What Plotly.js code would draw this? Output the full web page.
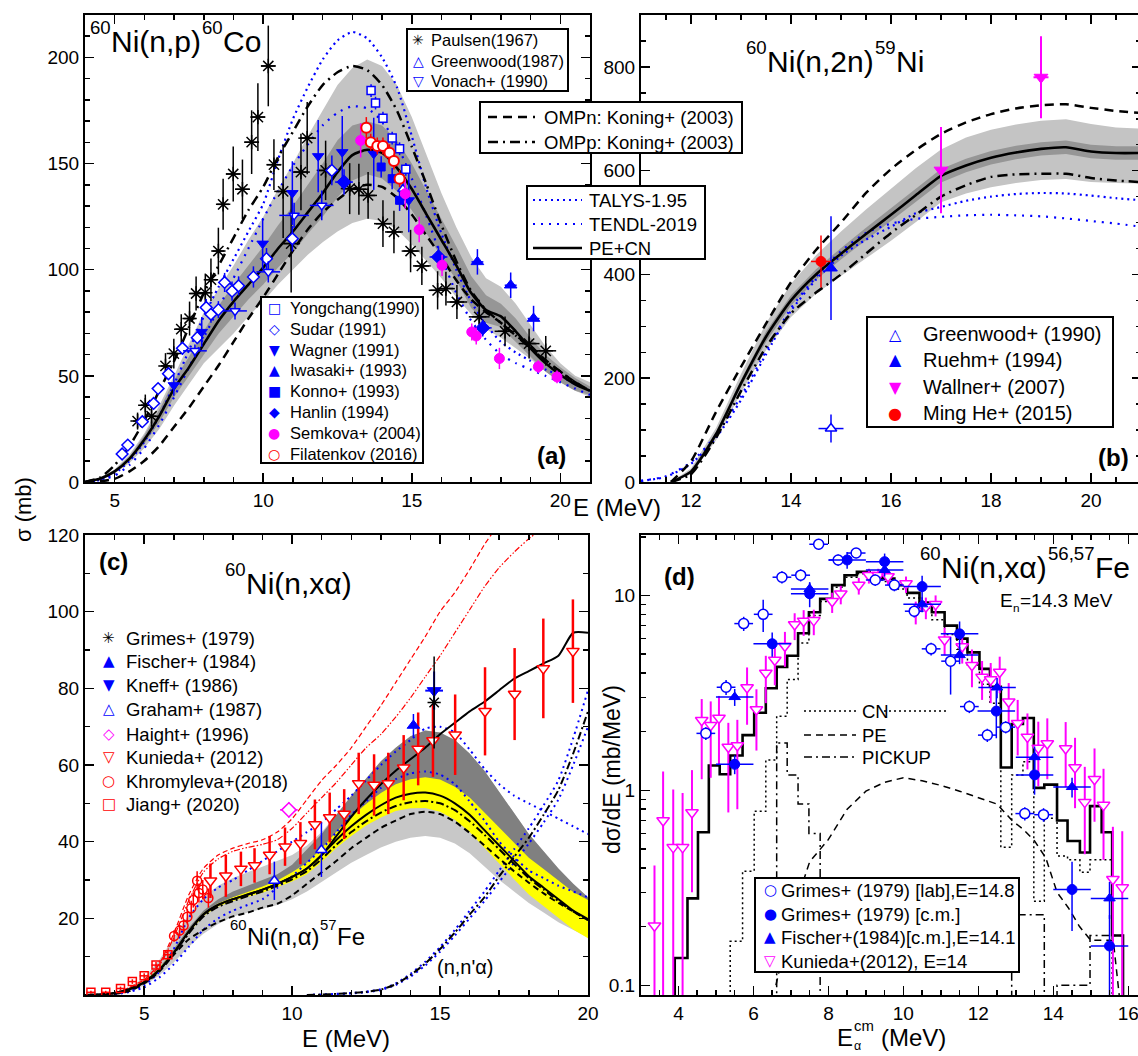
<!DOCTYPE html>
<html><head><meta charset="utf-8">
<script src="https://cdn.plot.ly/plotly-3.0.1.min.js"></script>
<style>html,body{margin:0;padding:0;overflow:hidden;background:#fff}#plot{width:1160px;height:1056px}</style>
</head><body><div id="plot"></div>
<script>
// ===================== DATA: panel (a) 60Ni(n,p)60Co =====================
const aE = [4,4.5,5,5.5,6,6.5,7,7.5,8,8.5,9,9.5,10,10.5,11,11.5,12,12.5,13,13.5,14,14.5,15,15.5,16,16.5,17,17.5,18,18.5,19,19.5,20,20.5,21];
const aPECN = [0,1.5,5,11,20,31,44,54,65,76,85,93,101,110,118,127,136,146,154,156.5,155,148,138,126,114,102,89,81,78,71,63,56,50.5,46,43];
const aLightUp = [0,2,6,13,23,36,50,65,80,91,102,114,125,138,150,163,175,187,195,199,196,187,172,154,136,120,106,96,92,84,74,64,56,50,47];
const aLightLo = [0,1,4,9,16,25,36,46,56,63,70,78,85,93,100,107,113,118,122,124,123,119,112,104,96,87,79,72,68,63,58,52,47,43,40];
const aDarkUp = [0,1.7,5.6,12,22,34,48,59,71,83,93,102,111,121,130,140,150,161,168,170,168,161,150,137,124,111,97,88,84,77,68,60,54,49,45];
const aDarkLo = [0,1.3,4.4,10,18,28,40,50,60,70,78,86,93,101,108,117,125,134,142,145,143,137,128,117,106,95,82,75,73,66,59,52,47,43,41];
const aOMPn = [0,0.3,1.5,5,10,17,26,35,45,55,66,77,87,98,109,119,127,133,138,140,139,134,126,116,106,95,86,80,75,69,64,57.5,52,47,43];
const aOMPp = [0,2,8,17,29,43,57,73,89,102,115,128,139,153,165,177,187,193,196,194,187,175,158,140,121,104,90,81,75,69,63,57,52,47,43];
const aTALYS = [0,1,4,10,19,31,46,62,78,92,105,118,131,152,171,186,199,208,212,209,200,186,163,138,117,100,85,74,66,61,57,53,50,46,43];
const aTENDL = [0,0.8,3,8,16,27,40,54,68,82,96,110,124,137,149,159,168,174,177,176,170,159,143,125,106,89,76,67,60,56,53,50,47,44,41];

const paulsenE = [5.77,6.03,6.24,6.71,6.99,7.24,7.52,7.74,8.05,8.24,8.49,8.65,8.99,9.3,9.61,9.82,10.17,10.36,10.67,10.94,11.27,11.48,12.1,12.91,13.22,13.53,14.03,14.4,14.96,15.34,15.87,16.15,16.52,17.27,18.14,18.95,19.51];
const paulsenS = [28.7,36.2,31,54.7,60.5,72,77,88.8,89.2,95.3,108.8,130.8,145.1,137.9,160.1,171.9,196,149.5,136.9,112.3,146,162,146.8,138.2,137.9,135,121.7,117.8,108.8,101.8,90.3,91.1,84.8,77.8,71,65.2,61.8];
const paulsenDS = [4,5,5,6,7,7,8,8,9,10,11,12,13,14,15,16,19,12,22,23,18,17,14,12,12,11,11,10,10,9,9,8,8,8,7,7,7];
const paulsenDE = [0.15,0.15,0.15,0.15,0.15,0.2,0.2,0.2,0.2,0.2,0.2,0.2,0.25,0.25,0.25,0.25,0.25,0.25,0.3,0.3,0.3,0.3,0.3,0.3,0.3,0.3,0.3,0.3,0.3,0.3,0.3,0.3,0.35,0.35,0.35,0.35,0.35];
const greenwoodAE = [14.7], greenwoodAS = [138], greenwoodADS = [4];
const vonachE = [7.7,9.05,10.17,11.04,11.97], vonachS = [61.8,80.6,99,125.6,130.3], vonachDS = [3,4,5,6,7], vonachDE = [0.4,0.4,0.4,0.5,0.4];
const yongE = [13.63,13.78,14.03,14.34,14.59,14.8], yongS = [184.4,178.5,171.4,162,157,147.3], yongDS = [3,3,3,3,3,3];
const sudarE = [5.25,5.44,5.93,6.31,6.46,6.81,7.28,7.78,8.08,8.24,8.49,8.7,8.95,9.17,9.67,10.11,10.98,12.31];
const sudarS = [13.2,17.4,28.4,37,44,51,63,68,82.2,79,81.2,94,89.9,92.4,96.6,105.2,114.6,146.8];
const sudarDS = [1,1,1.5,2,2,2.5,3,3,4,4,4,4.5,4.5,4.5,5,5,6,7];
const wagnerE = [6.99,7.93,9.98,10.98,11.85,12.66,13.72,14.9], wagnerS = [45.6,70.7,112.3,136.1,153.5,155.4,154.6,132.7], wagnerDS = [5,7,12,15,17,17,17,15];
const iwasakiE = [17.21,18.33,19.1], iwasakiS = [103.7,92.7,77], iwasakiDS = [6,6,6], iwasakiDE = [0.2,0.2,0.2];
const konnoE = [13.97,14.34,14.59], konnoS = [148.4,142.9,132.7], konnoDS = [5,5,5];
const hanlinE = [12.72,15.9,17.39], hanlinS = [141.3,106,72.6], hanlinDS = [6,5,4], hanlinDE = [0.3,0.3,0.3];
const semkovaE = [13.28,14.78,15.25,16.02,17.02,17.17,17.95,19.26,19.89], semkovaS = [160.9,135.8,118.9,102.1,70.7,68.8,58.2,54.3,49.5], semkovaDS = [8,7,6,5,4,4,5,3,3];
const filatE = [13.47,13.62,13.84,14.03,14.25,14.4,14.59], filatS = [166.9,160.1,158.3,158.3,155.1,151.2,142.9], filatDS = [5,4,4,4,4,4,4];

// ===================== DATA: panel (b) 60Ni(n,2n)59Ni =====================
const bE = [11.6,12,12.5,13,13.5,14,14.5,15,15.5,16,16.5,17,17.5,18,18.5,19,19.5,20,20.5,21];
const bPECN = [0,20,92,190,280,350,400,440,478,515,553,590,610,625,635,642,645,637,634,634];
const bLightUp = [0,26,104,208,306,382,437,483,525,565,605,641,664,679,689,696,699,690,683,681];
const bLightLo = [0,15,80,172,254,318,363,397,431,465,501,539,556,568,576,582,584,578,576,575];
const bDarkUp = [0,22,97,197,290,360,410,451,490,528,566,603,623,638,648,655,658,650,647,647];
const bDarkLo = [0,18,87,183,270,340,390,429,466,502,540,577,597,612,622,629,632,624,621,621];
const bOMPn = [0,40,135,222,305,385,447,500,557,603,640,671,693,709,720,726,728,721,715,711];
const bOMPp = [0,15,85,175,260,325,365,400,440,480,515,550,572,588,593,594,594,586,581,578];
const bEt = [11,11.5,12,12.5,13,13.5,14,14.5,15,15.5,16,16.5,17,17.5,18,18.5,19,19.5,20,20.5,21];
const bTALYS = [2,10,35,85,158,246,330,390,436,467,492,518,530,542,550,555,557,556,552,547,543];
const bTENDL = [2,11,38,90,165,252,335,395,445,480,498,507,511,514,515,514,512,508,503,498,492];
const gw90E = [14.8], gw90S = [103], gw90DS = [27], gw90DE = [0.25];
const ruehmE = [14.8], ruehmS = [412], ruehmDS = [100];
const wallnerE = [17.0,19.0], wallnerS = [601,780], wallnerDS = [83,79], wallnerDE = [0.05,0.15];
const mingheE = [14.6], mingheS = [425], mingheDS = [50], mingheDE = [0.2];

// ===================== DATA: panel (c) 60Ni(n,xa) =====================
const cE = [3,3.5,4,4.5,5,5.5,6,6.5,7,7.5,8,8.5,9,9.5,10,10.5,11,11.5,12,12.5,13,13.5,14,14.5,15,15.5,16,16.5,17,17.5,18,18.5,19,19.5,20];
const cXA = [0,0.1,0.5,1.5,3.3,6.5,11,16.5,21,23.5,25,26.2,27.5,29,30.8,33,36.5,41.5,46.5,51,55,58.5,61.5,64.5,68,71,74,76.5,79.5,82.5,84.5,86.5,88.5,94.5,94.5];
const cNA = [0,0.1,0.5,1.5,3.3,6.5,11,16.5,21,23.5,25,26.2,27.5,29,30.8,33,36.5,40.5,44,47,49.5,51.5,52.5,52.8,52,50,47,43,39,35,31,28,25,22,19.8];
const cYelUp = [0,0.1,0.6,1.7,3.6,6.9,11.4,16.9,21.4,23.9,25.5,26.8,28.3,29.9,32,34.5,38.3,42.6,46.5,49.8,52.7,55,56.3,56.8,56.2,54.3,51.5,47.6,43.7,39.8,35.8,32.9,29.9,26.9,24.8];
const cYelLo = [0,0.1,0.4,1.3,3.0,6.1,10.6,16.1,20.6,23.1,24.5,25.6,26.7,28.1,29.6,31.5,34.7,38.4,41.5,44.2,46.3,48,48.7,48.8,47.8,45.7,42.5,38.4,34.3,30.2,26.2,23.1,20.1,17.1,14.8];
const cLightUp = [0,0.1,0.7,2,4.5,9,15,21,25.5,28.5,30.5,32,33.5,35,36.5,39,42.5,47,52,56.5,61,64.5,67.5,69,68.5,66.5,63,58.5,53,47.5,42,37.5,33,29,25.5];
const cLightLo = [0,0,0.3,1,2.5,5,8.5,12.5,16,18.5,20.5,21.5,22.5,23.5,25,27,29.5,32,34.5,36.5,38.5,40,41,41.5,41,39.5,37,33.5,30,27,24,21.5,19,17,15];
const cDarkUp = [0,0.1,0.5,1.6,3.5,7,12,17.5,22,25,27,28.5,30,31.5,34,38,42,47,52,56.5,61,64.5,67.5,69,68.5,66.5,63,58.5,53,47.5,42,37.5,33,29,25.5];
const cOMPn = [0,0,0.3,1,3,6,10.5,14.5,17,19,20.5,21.5,22.8,23.8,26,29,32,35,38.3,41,43.6,45.5,47.2,47.8,47.2,45.2,42.3,39,35.6,32.3,29.3,26.5,24,21.8,19.5];
const cOMPp = [0,0.1,0.5,1.4,3.2,6.3,10.8,16,20.5,23,24.5,25.8,27,28.5,30.2,32.3,35.5,39.2,42.5,45.3,47.6,49.3,50.3,50.6,50,48.2,45.3,41.8,38,34.2,30.5,27.5,24.5,21.8,19.6];
const cTALYS = [0,0,0.3,1,2.5,6,12,20,25,28,30,32.5,35,37.5,40,42.5,45,48.5,52,56,60,63.5,66.5,69.5,70,68.5,64,59,55,52,50,48,46,44,42];
const cTENDL = [0,0,0.2,0.8,2,4.5,8,12.5,17,20,22,23.5,25,28,31,34.5,38,42.5,47,50.5,54,56.3,57.8,58.3,57.5,55,50.5,45.5,40,36,32.5,30.5,28.5,27,25.5];
const cNE = [10.5,11,11.5,12,12.5,13,13.5,14,14.5,15,15.5,16,16.5,17,17.5,18,18.5,19,19.5,20];
const cNNA_K = [0,0.1,0.3,0.5,0.8,1.4,2.8,5.2,8.2,12,16.3,21,25.5,31,36,41,47,53.5,63,74];
const cNNA_T = [0,0.1,0.3,0.5,0.9,1.5,3,5.5,8.7,12.5,17,22,27,32.5,38,43.5,49.5,56,67,79.5];
const cNNA_L = [0,0.1,0.2,0.4,0.7,1.3,2.6,4.8,7.7,11.3,15.5,20,24.5,29.5,34.5,39.5,45,51,60,70];
const rE = [3.5,4,4.5,5,5.5,6,6.5,7,7.5,8,8.5,9,9.5,10,10.5,11,11.5,12,12.5,13,13.5,14,14.5,15,15.5,16,16.5,17,17.5,18,18.5];
const cRedDash = [0,0.5,2,4,8,16,26,33,36.5,38.3,39.5,40.5,42.5,46,51,56,60,64.5,70,75.5,81.5,87.5,93.5,100,105,111,117.5,123,128,133,138];
const cRedDDot = [0,0.4,1.8,3.7,7.5,15,24.5,32,35.5,37.5,38.5,39.3,40.5,43.5,47.5,51.5,55.5,60,64.5,68,72.5,77.5,83,88.5,94.5,100.5,106.5,111.5,115.5,119,122];

const kunE = [7.24,7.76,8.27,8.73,9.24,9.76,10.28,10.77,11.27,11.76,12.25,12.77,13.25,13.77,14.26,14.76,15.51,16.52,17.52,18.49,19.49];
const kunS = [29.8,31.1,32.9,33.8,36.5,38.7,39.6,44.5,46.3,47.2,55.2,54.8,55.2,59.3,64.2,66.4,67.9,74,78.5,85.2,89.7];
const kunDS = [4.5,5.5,4.5,4.5,5,5,5.5,6.5,6.5,6.5,8,8,8,8.5,9.5,9.5,10.5,11.5,12,13,13.5];
const khromE = [6.01,6.2,6.33,6.46,6.59,6.66,6.79,6.85,6.98,7.17], khromS = [15.4,16.8,18.1,20.4,22.6,24.8,29.8,26.6,27.5,25.3], khromDS = [1.5,1.5,1.5,2,2,2,2.5,2.5,2.5,2.5];
const jiangE = [3.2,3.7,4.2,4.6,5.0,5.4,5.8], jiangS = [0.7,0.7,1.7,3.5,5.0,7.8,10.5], jiangDS = [0.4,0.4,0.5,0.6,0.7,0.8,1], jiangDE = [0.15,0.15,0.15,0.15,0.15,0.15,0.15];
const grimesCE = [14.8], grimesCS = [76.3], grimesCDS = [12];
const fischerCE = [14.1], fischerCS = [70.3], fischerCDS = [3];
const kneffE = [14.8], kneffS = [79.4], kneffDS = [5], kneffDE = [0.3];
const grahamE = [9.4,10.99], grahamS = [29.8,37.8], grahamDS = [5,7];
const haightE = [9.89], haightS = [48.3], haightDS = [2], haightDE = [0.3];

// ===================== DATA: panel (d) alpha spectrum =====================
const dEdges = [3.6,3.9,4.24,4.52,4.81,5.1,5.38,5.71,6.02,6.33,6.62,6.9,7.19,7.48,7.78,8.1,8.43,8.76,9.1,9.43,9.76,10.1,10.43,10.76,11.1,11.43,11.71,12.03,12.31,12.6,12.89,13.19,13.48,13.76,14.1,14.38,14.71,14.98,15.29,15.57,15.86,16.2];
const dTotal = [0.01,0.138,0.279,0.61,1.34,1.21,1.51,1.92,2.5,3.34,4.3,4.9,6.4,8.2,9.6,11.3,12.7,13.2,13.0,12.2,11.3,10.3,9.2,8.2,7.0,6.0,5.1,4.2,3.4,1.31,2.19,2.35,1.03,1.07,0.70,0.55,0.48,0.83,0.61,0.18,0.01];
const dCN = [0.01,0.01,0.01,0.01,0.01,0.01,0.168,0.385,0.78,1.43,2.4,3.7,5.7,7.9,9.3,11,12.4,12.9,12.7,11.8,10.8,9.7,8.6,7.5,6.3,5.3,4.4,3.5,2.8,0.51,1.2,1.4,0.27,0.72,0.46,0.44,0.38,0.44,0.44,0.01,0.01];
const dPickup = [0.01,0.01,0.01,0.01,0.01,0.01,0.01,0.01,0.01,0.01,1.75,1.2,0.85,0.6,0.01,0.01,0.01,0.01,0.01,0.01,0.01,0.01,0.01,0.01,0.01,0.01,0.01,0.01,0.01,0.01,0.23,0.23,0.23,0.01,0.1,0.1,0.1,0.18,0.18,0.18,0.01];
const dPE_E = [6.6,7.0,7.5,8.0,8.5,9.0,9.5,10.0,10.5,11.0,11.5,12.0,12.5,12.9,13.2,13.5,13.8,14.1,14.4,14.7,15.0,15.3,15.6,15.9];
const dPE_Y = [0.1,0.22,0.43,0.56,0.8,0.99,1.1,1.16,1.12,1.06,0.99,0.92,0.85,0.7,0.63,0.55,0.45,0.3,0.25,0.2,0.17,0.17,0.17,0.05];

const grLabE = [4.73,5.27,5.74,6.26,6.76,7.26,7.74,8.26,8.74,9.25,9.76,10.29,10.74,11.26,11.76,12.24,12.73,13.24,13.74];
const grLabY = [1.96,3.38,7.17,8.0,12.4,12.7,18.3,15.2,16.5,12.0,11.3,8.3,5.32,4.6,2.69,1.92,2.11,0.76,0.75];
const grLabDY = [0.15,0.3,0.6,1.5,0.9,0.9,1.2,1.0,1.0,0.8,0.8,0.6,0.4,1.5,0.2,0.15,0.15,0.06,0.06];
const grLabDE = [0.25,0.25,0.25,0.25,0.25,0.25,0.25,0.25,0.25,0.25,0.25,0.25,0.25,0.25,0.25,0.25,0.25,0.25,0.25];
const grCmE = [5.5,6.5,7.5,8.5,9.5,10.5,11.5,12.48,13.5,14.5,15.5];
const grCmY = [1.36,5.65,10.2,15.2,14.9,11.1,6.35,2.55,1.2,0.31,0.159];
const grCmDY = [0.15,0.8,1.5,1.5,1.5,1.5,1.0,0.7,0.25,0.12,0.07];
const grCmDE = [0.5,0.5,0.5,0.5,0.5,0.5,0.5,0.5,0.5,0.5,0.5];
const fiDE = [5.5,7.5,9.5,10.5,11.5,12.5,13.5,14.5,15.5];
const fiDY = [3.01,10.8,13.5,9.0,4.94,3.37,1.48,1.04,0.279];
const fiDDY = [0.3,0.8,1,0.8,0.5,0.4,0.2,0.12,0.06];
const fiDDE = [0.5,0.5,0.5,0.5,0.5,0.5,0.5,0.5,0.5];
const kuDE = [3.36,3.59,3.86,4.11,4.36,4.62,4.86,5.08,5.33,5.57,5.83,6.08,6.33,6.57,6.84,7.1,7.34,7.61,8.1,8.33,8.81,9.08,9.33,9.59,10.07,10.33,10.6,10.86,11.1,11.57,11.83,12.1,12.33,12.57,12.81,13.05,13.31,13.6,13.84,14.33,14.58,14.84,15.1,15.34,15.59,15.84];
const kuDY = [0.202,0.70,0.51,0.51,0.77,2.29,2.16,2.35,1.67,1.70,3.37,2.6,4.0,4.66,5.5,7.1,7.4,7.45,9.33,10.2,11.3,12.7,12.7,12.5,11.5,8.3,8.75,9.0,5.93,5.47,4.38,3.81,3.7,4.05,2.85,2.21,1.88,1.65,1.74,1.64,1.31,0.87,1.14,0.84,0.35,0.317];
const kuDYp = [0.21,0.55,0.5,0.46,0.5,0.65,0.7,0.7,0.55,0.6,0.9,0.7,0.9,1.0,1.0,1.0,1.0,1.0,1.0,1.0,1.0,1.0,1.0,1.0,1.0,1.0,1.0,1.0,0.9,0.9,0.9,0.8,0.8,0.8,0.7,0.7,0.6,0.6,0.6,0.6,0.55,0.45,0.5,0.45,0.3,0.3];
const kuDYm = [0.19,0.68,0.5,0.5,0.47,1.15,1.0,1.0,0.9,0.9,1.2,1.0,1.2,1.2,1.2,1.2,1.2,1.2,1.2,1.2,1.2,1.2,1.2,1.2,1.2,1.2,1.2,1.2,1.0,1.0,1.0,0.9,0.9,0.9,0.8,0.7,0.6,0.6,0.6,0.6,0.5,0.4,0.45,0.4,0.3,0.25];

// ===================== drawing =====================
const W = 1160, H = 1056;
const px = x => x / W, py = y => 1 - y / H;
const FONT = 'Liberation Sans, Arial, Helvetica, sans-serif';
const GLYPH = 'DejaVu Sans, sans-serif';
const BLUE = '#0000ff', MAG = '#ff00ff', RED = '#ff0000', BLK = '#000000';
const traces = [];

function band(x, up, lo, xa, ya, color, name) {
  traces.push({type:'scatter', mode:'lines', name:name, x:x.concat(x.slice().reverse()), y:up.concat(lo.slice().reverse()),
    fill:'toself', fillcolor:color, line:{width:0}, xaxis:xa, yaxis:ya, showlegend:false, hoverinfo:'skip'});
}
function curve(x, y, xa, ya, color, width, dash, name, shape) {
  traces.push({type:'scatter', mode:'lines', name:name, x:x, y:y, xaxis:xa, yaxis:ya,
    line:{color:color, width:width, dash:dash || 'solid', shape:shape || 'spline', smoothing:0.6}, showlegend:false});
}
function pts(x, y, xa, ya, name, sym, size, fill, edge, ew, ey, ex, barColor, barW, eyMinus) {
  const t = {type:'scatter', mode:'markers', name:name, x:x, y:y, xaxis:xa, yaxis:ya, showlegend:false, cliponaxis:true,
    marker:{symbol:sym, size:size, color:fill, line:{color:edge, width:ew}}};
  if (ey) {
    t.error_y = {type:'data', array:ey, color:barColor, thickness:barW, width:0, visible:true};
    if (eyMinus) { t.error_y.symmetric = false; t.error_y.arrayminus = eyMinus; }
  }
  if (ex) t.error_x = {type:'data', array:ex, color:barColor, thickness:barW, width:0, visible:true};
  traces.push(t);
}
function hist(edges, vals, xa, ya, color, width, dash, name) {
  traces.push({type:'scatter', mode:'lines', name:name, x:edges, y:vals.concat([vals[vals.length - 1]]), xaxis:xa, yaxis:ya,
    line:{color:color, width:width, dash:dash || 'solid', shape:'hv'}, showlegend:false});
}

// ---- panel (a)
band(aE, aLightUp, aLightLo, 'x', 'y', 'rgb(196,196,196)', 'PE+CN uncertainty (outer)');
band(aE, aDarkUp, aDarkLo, 'x', 'y', 'rgb(150,150,150)', 'PE+CN uncertainty (inner)');
curve(aE, aTALYS, 'x', 'y', BLUE, 2.2, '2px,4px', 'TALYS-1.95');
curve(aE, aTENDL, 'x', 'y', BLUE, 2.2, '2px,6px', 'TENDL-2019');
curve(aE, aOMPn, 'x', 'y', BLK, 2.5, '9px,6px', 'OMPn: Koning+ (2003)');
curve(aE, aOMPp, 'x', 'y', BLK, 2.5, '10px,5px,2px,5px', 'OMPp: Koning+ (2003)');
curve(aE, aPECN, 'x', 'y', BLK, 2.6, 'solid', 'PE+CN');
pts(paulsenE, paulsenS, 'x', 'y', 'Paulsen(1967)', 'asterisk-open', 12, BLK, BLK, 1.5, paulsenDS, paulsenDE, BLK, 1.5);
pts(sudarE, sudarS, 'x', 'y', 'Sudar (1991)', 'diamond', 9, '#fff', BLUE, 1.5, sudarDS, null, BLUE, 1.5);
pts(vonachE, vonachS, 'x', 'y', 'Vonach+ (1990)', 'triangle-down', 9, '#fff', BLUE, 1.5, vonachDS, vonachDE, BLUE, 1.5);
pts(wagnerE, wagnerS, 'x', 'y', 'Wagner (1991)', 'triangle-down', 10, BLUE, BLUE, 1, wagnerDS, null, BLUE, 1.5);
pts(iwasakiE, iwasakiS, 'x', 'y', 'Iwasaki+ (1993)', 'triangle-up', 11, BLUE, BLUE, 1, iwasakiDS, iwasakiDE, BLUE, 1.5);
pts(konnoE, konnoS, 'x', 'y', 'Konno+ (1993)', 'square', 8, BLUE, BLUE, 1, konnoDS, null, BLUE, 1.5);
pts(hanlinE, hanlinS, 'x', 'y', 'Hanlin (1994)', 'diamond', 11, BLUE, BLUE, 1, hanlinDS, hanlinDE, BLUE, 1.5);
pts(greenwoodAE, greenwoodAS, 'x', 'y', 'Greenwood(1987)', 'triangle-up', 9, '#fff', BLUE, 1.5, greenwoodADS, null, BLUE, 1.5);
pts(yongE, yongS, 'x', 'y', 'Yongchang(1990)', 'square', 8, '#fff', BLUE, 1.5, yongDS, null, BLUE, 1.5);
pts(semkovaE, semkovaS, 'x', 'y', 'Semkova+ (2004)', 'circle', 10, MAG, MAG, 1, semkovaDS, null, MAG, 1.5);
pts(filatE, filatS, 'x', 'y', 'Filatenkov (2016)', 'circle', 10, '#fff', RED, 2, filatDS, null, RED, 1.5);

// ---- panel (b)
band(bE, bLightUp, bLightLo, 'x2', 'y2', 'rgb(196,196,196)', 'PE+CN uncertainty (outer)');
band(bE, bDarkUp, bDarkLo, 'x2', 'y2', 'rgb(150,150,150)', 'PE+CN uncertainty (inner)');
curve(bEt, bTALYS, 'x2', 'y2', BLUE, 2.2, '2px,4px', 'TALYS-1.95');
curve(bEt, bTENDL, 'x2', 'y2', BLUE, 2.2, '2px,6px', 'TENDL-2019');
curve(bE, bOMPn, 'x2', 'y2', BLK, 2.5, '9px,6px', 'OMPn: Koning+ (2003)');
curve(bE, bOMPp, 'x2', 'y2', BLK, 2.5, '10px,5px,2px,5px', 'OMPp: Koning+ (2003)');
curve(bE, bPECN, 'x2', 'y2', BLK, 2.6, 'solid', 'PE+CN');
pts(gw90E, gw90S, 'x2', 'y2', 'Greenwood+ (1990)', 'triangle-up', 10, '#fff', BLUE, 1.5, gw90DS, gw90DE, BLUE, 1.5);
pts(ruehmE, ruehmS, 'x2', 'y2', 'Ruehm+ (1994)', 'triangle-up', 11, BLUE, BLUE, 1, ruehmDS, null, BLUE, 1.5);
pts(wallnerE, wallnerS, 'x2', 'y2', 'Wallner+ (2007)', 'triangle-down', 12, MAG, MAG, 1, wallnerDS, wallnerDE, MAG, 2);
pts(mingheE, mingheS, 'x2', 'y2', 'Ming He+ (2015)', 'circle', 10, RED, RED, 1, mingheDS, mingheDE, RED, 1.5);

// ---- panel (c)
band(cE, cLightUp, cLightLo, 'x3', 'y3', 'rgb(200,200,200)', 'band (light)');
band(cE, cDarkUp, cNA, 'x3', 'y3', 'rgb(128,128,128)', 'band (dark)');
band(cE, cYelUp, cYelLo, 'x3', 'y3', '#ffff00', 'band (yellow)');
curve(rE, cRedDash, 'x3', 'y3', RED, 1.2, '5px,3px', 'red dashed');
curve(rE, cRedDDot, 'x3', 'y3', RED, 1.2, '6px,2px,1.5px,2px,1.5px,2px', 'red dash-dot');
curve(cE, cTALYS, 'x3', 'y3', BLUE, 2, '2px,4px', 'TALYS-1.95 (n,a)');
curve(cE, cTENDL, 'x3', 'y3', BLUE, 2, '2px,4px', 'TENDL-2019 (n,a)');
curve(cNE, cNNA_T, 'x3', 'y3', BLUE, 2, '2px,4px', 'TALYS (n,n\'a)');
curve(cNE, cNNA_L, 'x3', 'y3', BLUE, 2, '2px,4px', 'TENDL (n,n\'a)');
curve(cNE, cNNA_K, 'x3', 'y3', BLK, 2, '8px,3px,2px,3px', 'PE+CN (n,n\'a)');
curve(cE, cOMPn, 'x3', 'y3', BLK, 2, '6px,4px', 'OMPn (n,a)');
curve(cE, cOMPp, 'x3', 'y3', BLK, 2, '8px,3px,2px,3px', 'OMPp (n,a)');
curve(cE, cNA, 'x3', 'y3', BLK, 2, 'solid', 'PE+CN (n,a)');
curve(cE, cXA, 'x3', 'y3', BLK, 2, 'solid', 'PE+CN (n,xa)');
pts(jiangE, jiangS, 'x3', 'y3', 'Jiang+ (2020)', 'square-open', 8, RED, RED, 1.5, jiangDS, jiangDE, RED, 1.5);
pts(khromE, khromS, 'x3', 'y3', 'Khromyleva+(2018)', 'circle-open', 9, RED, RED, 1.5, khromDS, null, RED, 1.5);
pts(kunE, kunS, 'x3', 'y3', 'Kunieda+ (2012)', 'triangle-down', 11, '#fff', RED, 1.5, kunDS, null, RED, 2.5);
pts(grahamE, grahamS, 'x3', 'y3', 'Graham+ (1987)', 'triangle-up', 10, '#fff', BLUE, 1.5, grahamDS, null, BLUE, 1.5);
pts(haightE, haightS, 'x3', 'y3', 'Haight+ (1996)', 'diamond', 11, '#fff', MAG, 1.5, haightDS, haightDE, MAG, 1.5);
pts(fischerCE, fischerCS, 'x3', 'y3', 'Fischer+ (1984)', 'triangle-up', 11, BLUE, BLUE, 1, fischerCDS, null, BLUE, 1.5);
pts(kneffE, kneffS, 'x3', 'y3', 'Kneff+ (1986)', 'triangle-down', 12, BLUE, BLUE, 1, kneffDS, kneffDE, BLUE, 2);
pts(grimesCE, grimesCS, 'x3', 'y3', 'Grimes+ (1979)', 'asterisk-open', 11, BLK, BLK, 1.5, grimesCDS, null, BLK, 1.5);

// ---- panel (d)
hist(dEdges, dCN, 'x4', 'y4', BLK, 1.5, '2px,3px', 'CN');
hist(dEdges, dPickup, 'x4', 'y4', BLK, 1.5, '8px,4px,2px,4px', 'PICKUP');
curve(dPE_E, dPE_Y, 'x4', 'y4', BLK, 1.5, '7px,5px', 'PE', 'linear');
hist(dEdges, dTotal, 'x4', 'y4', BLK, 2.6, 'solid', 'total');
pts(kuDE, kuDY, 'x4', 'y4', 'Kunieda+(2012), E=14', 'triangle-down', 11, '#fff', MAG, 1.5, kuDYp, null, MAG, 2, kuDYm);
pts(grLabE, grLabY, 'x4', 'y4', 'Grimes+ (1979) [lab],E=14.8', 'circle', 10, '#fff', BLUE, 1.5, grLabDY, grLabDE, BLUE, 1.5);
pts(grCmE, grCmY, 'x4', 'y4', 'Grimes+ (1979) [c.m.]', 'circle', 10, BLUE, BLUE, 1, grCmDY, grCmDE, BLUE, 1.5);
pts(fiDE, fiDY, 'x4', 'y4', 'Fischer+(1984)[c.m.],E=14.1', 'triangle-up', 10, BLUE, BLUE, 1, fiDDY, fiDDE, BLUE, 1.5);

// ===================== axes =====================
function ax(extra) {
  return Object.assign({showline:true, linecolor:BLK, linewidth:2, mirror:'allticks', ticks:'inside', ticklen:9, tickwidth:1.5,
    tickcolor:BLK, showgrid:false, zeroline:false, tickfont:{family:FONT, size:19, color:BLK}, layer:'above traces'}, extra);
}
function mn(d) { return {ticks:'inside', ticklen:5, tickwidth:1.5, tickcolor:BLK, dtick:d, showgrid:false}; }

const layout = {
  width:W, height:H, margin:{l:0, r:0, t:0, b:0}, paper_bgcolor:'#fff', plot_bgcolor:'#fff', showlegend:false,
  font:{family:FONT, color:BLK},
  xaxis: ax({domain:[px(85), px(590)], range:[4,21], dtick:5, tick0:0, minor:mn(1), anchor:'y'}),
  yaxis: ax({domain:[py(482), py(15)], range:[0,220], dtick:50, tick0:0, minor:mn(10), anchor:'x'}),
  xaxis2: ax({domain:[px(641), px(1141)], range:[11,21], dtick:2, tick0:0, minor:mn(0.5), anchor:'y2'}),
  yaxis2: ax({domain:[py(482), py(15)], range:[0,900], dtick:200, tick0:0, minor:mn(50), anchor:'x2'}),
  xaxis3: ax({domain:[px(85), px(588)], range:[3,20], dtick:5, tick0:0, minor:mn(1), anchor:'y3'}),
  yaxis3: ax({domain:[py(995), py(535)], range:[0,120], tickvals:[20,40,60,80,100,120], minor:mn(10), anchor:'x3'}),
  xaxis4: ax({domain:[px(641), px(1147)], range:[3,16.5], dtick:2, tick0:0, minor:mn(0.5), anchor:'y4'}),
  yaxis4: ax({type:'log', domain:[py(995), py(535)], range:[-1.05,1.31], tickvals:[0.1,1,10], ticktext:['0.1','1','10'],
    minor:{ticks:'inside', ticklen:5, tickwidth:1.5, tickcolor:BLK, tickvals:[0.2,0.3,0.4,0.5,0.6,0.7,0.8,0.9,2,3,4,5,6,7,8,9,20]}, anchor:'x4'}),
  shapes:[], annotations:[]
};
const S = layout.shapes, A = layout.annotations;
function ann(text, x, y, size, opts) {
  A.push(Object.assign({xref:'paper', yref:'paper', x:px(x), y:py(y), text:text, showarrow:false,
    font:{family:FONT, size:size, color:BLK}, xanchor:'center', yanchor:'middle'}, opts || {}));
}
// rich text made of pieces placed side by side (superscripts / subscripts as separate smaller texts)
const ctx = document.createElement('canvas').getContext('2d');
function textW(t, sz) { ctx.font = sz + 'px "Liberation Sans", Arial, sans-serif'; return ctx.measureText(t).width; }
function rich(pieces, x, base, size) {
  let cx = x, lastX = x;
  pieces.forEach(([t, k]) => {
    let sz = size, b = base, adv = true, x0 = cx;
    if (k === 'sup') { sz = size * 0.62; b = base - size * 0.6; }
    else if (k === 'sub') { sz = size * 0.62; b = base + size * 0.22; }
    else if (k === 'subback') { sz = size * 0.52; b = base + size * 0.2; x0 = lastX; adv = false; }
    if (t.startsWith(' ')) { const sp = textW(' ', sz); cx += sp; x0 += sp; t = t.trimStart(); }
    A.push({xref:'paper', yref:'paper', x:px(x0), y:py(b - 0.3465 * sz), text:t, showarrow:false, borderpad:0,
      font:{family:FONT, size:sz, color:BLK}, xanchor:'left', yanchor:'middle'});
    if (adv) { lastX = x0; cx = x0 + textW(t, sz) + 0.6; }
  });
}
function box(x0, y0, x1, y1) {
  S.push({type:'rect', xref:'paper', yref:'paper', x0:px(x0), x1:px(x1), y0:py(y1), y1:py(y0),
    line:{color:BLK, width:2}, fillcolor:'#fff', layer:'above'});
}
function seg(x0, x1, y, color, width, dash) {
  S.push({type:'line', xref:'paper', yref:'paper', x0:px(x0), x1:px(x1), y0:py(y), y1:py(y),
    line:{color:color, width:width, dash:dash}, layer:'above'});
}
function symLegend(items, symX, txtX, ys, size, gsize) {
  items.forEach((it, i) => {
    ann(it[0], symX, ys[i], gsize, {font:{family:GLYPH, size:gsize, color:it[1]}});
    ann(it[2], txtX, ys[i], size, {xanchor:'left'});
  });
}

// axis titles
ann('σ (mb)', 24, 510, 22, {textangle:-90});
ann('E (MeV)', 617, 507, 24);
ann('E (MeV)', 346, 1038, 24);
rich([['E', 'n'], ['cm', 'sup'], ['α', 'subback'], [' (MeV)', 'n']], 836, 1046, 24);
ann('dσ/dE (mb/MeV)', 612, 770, 23, {textangle:-90});

// panel titles and labels
rich([['60', 'sup'], ['Ni(n,p)', 'n'], ['60', 'sup'], ['Co', 'n']], 89, 52, 30);
rich([['60', 'sup'], ['Ni(n,2n)', 'n'], ['59', 'sup'], ['Ni', 'n']], 745, 72, 30);
rich([['60', 'sup'], ['Ni(n,xα)', 'n']], 224, 594, 30);
rich([['60', 'sup'], ['Ni(n,α)', 'n'], ['57', 'sup'], ['Fe', 'n']], 229, 945, 24);
ann("(n,n'α)", 465, 967, 20);
rich([['60', 'sup'], ['Ni(n,xα)', 'n'], ['56,57', 'sup'], ['Fe', 'n']], 919, 578, 30);
rich([['E', 'n'], ['n', 'sub'], ['=14.3 MeV', 'n']], 999, 607, 19);
ann('<b>(a)</b>', 551, 455, 24);
ann('<b>(b)</b>', 1113, 457, 24);
ann('<b>(c)</b>', 113, 561, 24);
ann('<b>(d)</b>', 680, 576, 24);

// legend (a) top
box(407, 29, 568, 91);
symLegend([['✳', BLK, 'Paulsen(1967)'], ['△', BLUE, 'Greenwood(1987)'], ['▽', BLUE, 'Vonach+ (1990)']], 418, 429, [40, 61, 81], 16.5, 14);
// legend OMP
box(480, 102, 742, 153);
seg(488, 535, 117, BLK, 2.5, '9px,6px');
seg(488, 535, 142, BLK, 2.5, '10px,5px,2px,5px');
ann('OMPn: Koning+ (2003)', 542, 117, 18.5, {xanchor:'left'});
ann('OMPp: Koning+ (2003)', 542, 142, 18.5, {xanchor:'left'});
// legend models
box(527, 186, 705, 259);
seg(533, 582, 200, BLUE, 2.2, '2px,4px');
seg(533, 582, 224, BLUE, 2.2, '2px,6px');
seg(533, 582, 248, BLK, 2.6, 'solid');
ann('TALYS-1.95', 587, 200, 18.5, {xanchor:'left'});
ann('TENDL-2019', 587, 224, 18.5, {xanchor:'left'});
ann('PE+CN', 587, 248, 18.5, {xanchor:'left'});
// legend (a) data
box(261, 297, 423, 463);
symLegend([['□', BLUE, 'Yongchang(1990)'], ['◇', BLUE, 'Sudar (1991)'], ['▼', BLUE, 'Wagner (1991)'], ['▲', BLUE, 'Iwasaki+ (1993)'],
  ['■', BLUE, 'Konno+ (1993)'], ['◆', BLUE, 'Hanlin (1994)'], ['●', MAG, 'Semkova+ (2004)'], ['○', RED, 'Filatenkov (2016)']],
  274, 288, [308, 329, 350, 370, 391, 412, 433, 454], 16.5, 14);
// legend (b)
box(867, 317, 1113, 427);
symLegend([['△', BLUE, 'Greenwood+ (1990)'], ['▲', BLUE, 'Ruehm+ (1994)'], ['▼', MAG, 'Wallner+ (2007)'], ['●', RED, 'Ming He+ (2015)']],
  895, 921, [334, 360, 387, 413], 20, 16);
// legend (c)
symLegend([['✳', BLK, 'Grimes+ (1979)'], ['▲', BLUE, 'Fischer+ (1984)'], ['▼', BLUE, 'Kneff+ (1986)'], ['△', BLUE, 'Graham+ (1987)'],
  ['◇', MAG, 'Haight+ (1996)'], ['▽', RED, 'Kunieda+ (2012)'], ['○', RED, 'Khromyleva+(2018)'], ['□', RED, 'Jiang+ (2020)']],
  109, 124, [638, 661, 685, 709, 734, 757, 781, 804], 18.5, 15);
// legend (d) components
seg(804, 856, 711, BLK, 1.5, '2px,3px');
seg(884, 946, 711, BLK, 1.5, '2px,3px');
seg(804, 856, 735, BLK, 1.5, '7px,5px');
seg(804, 856, 757, BLK, 1.5, '8px,4px,2px,4px');
ann('CN', 860, 711, 18.5, {xanchor:'left'});
ann('PE', 860, 735, 18.5, {xanchor:'left'});
ann('PICKUP', 860, 757, 18.5, {xanchor:'left'});
// legend (d) data
box(755, 878, 1019, 972);
symLegend([['○', BLUE, 'Grimes+ (1979) [lab],E=14.8'], ['●', BLUE, 'Grimes+ (1979) [c.m.]'], ['▲', BLUE, 'Fischer+(1984)[c.m.],E=14.1'],
  ['▽', MAG, 'Kunieda+(2012), E=14']], 770, 779, [890, 914, 937, 961], 18.5, 15);

Plotly.newPlot('plot', traces, layout, {displayModeBar:false, staticPlot:true}).then(gd => {
  gd.querySelectorAll('text').forEach(t => { if (!t.textContent.trim()) t.remove(); });
});
</script></body></html>
